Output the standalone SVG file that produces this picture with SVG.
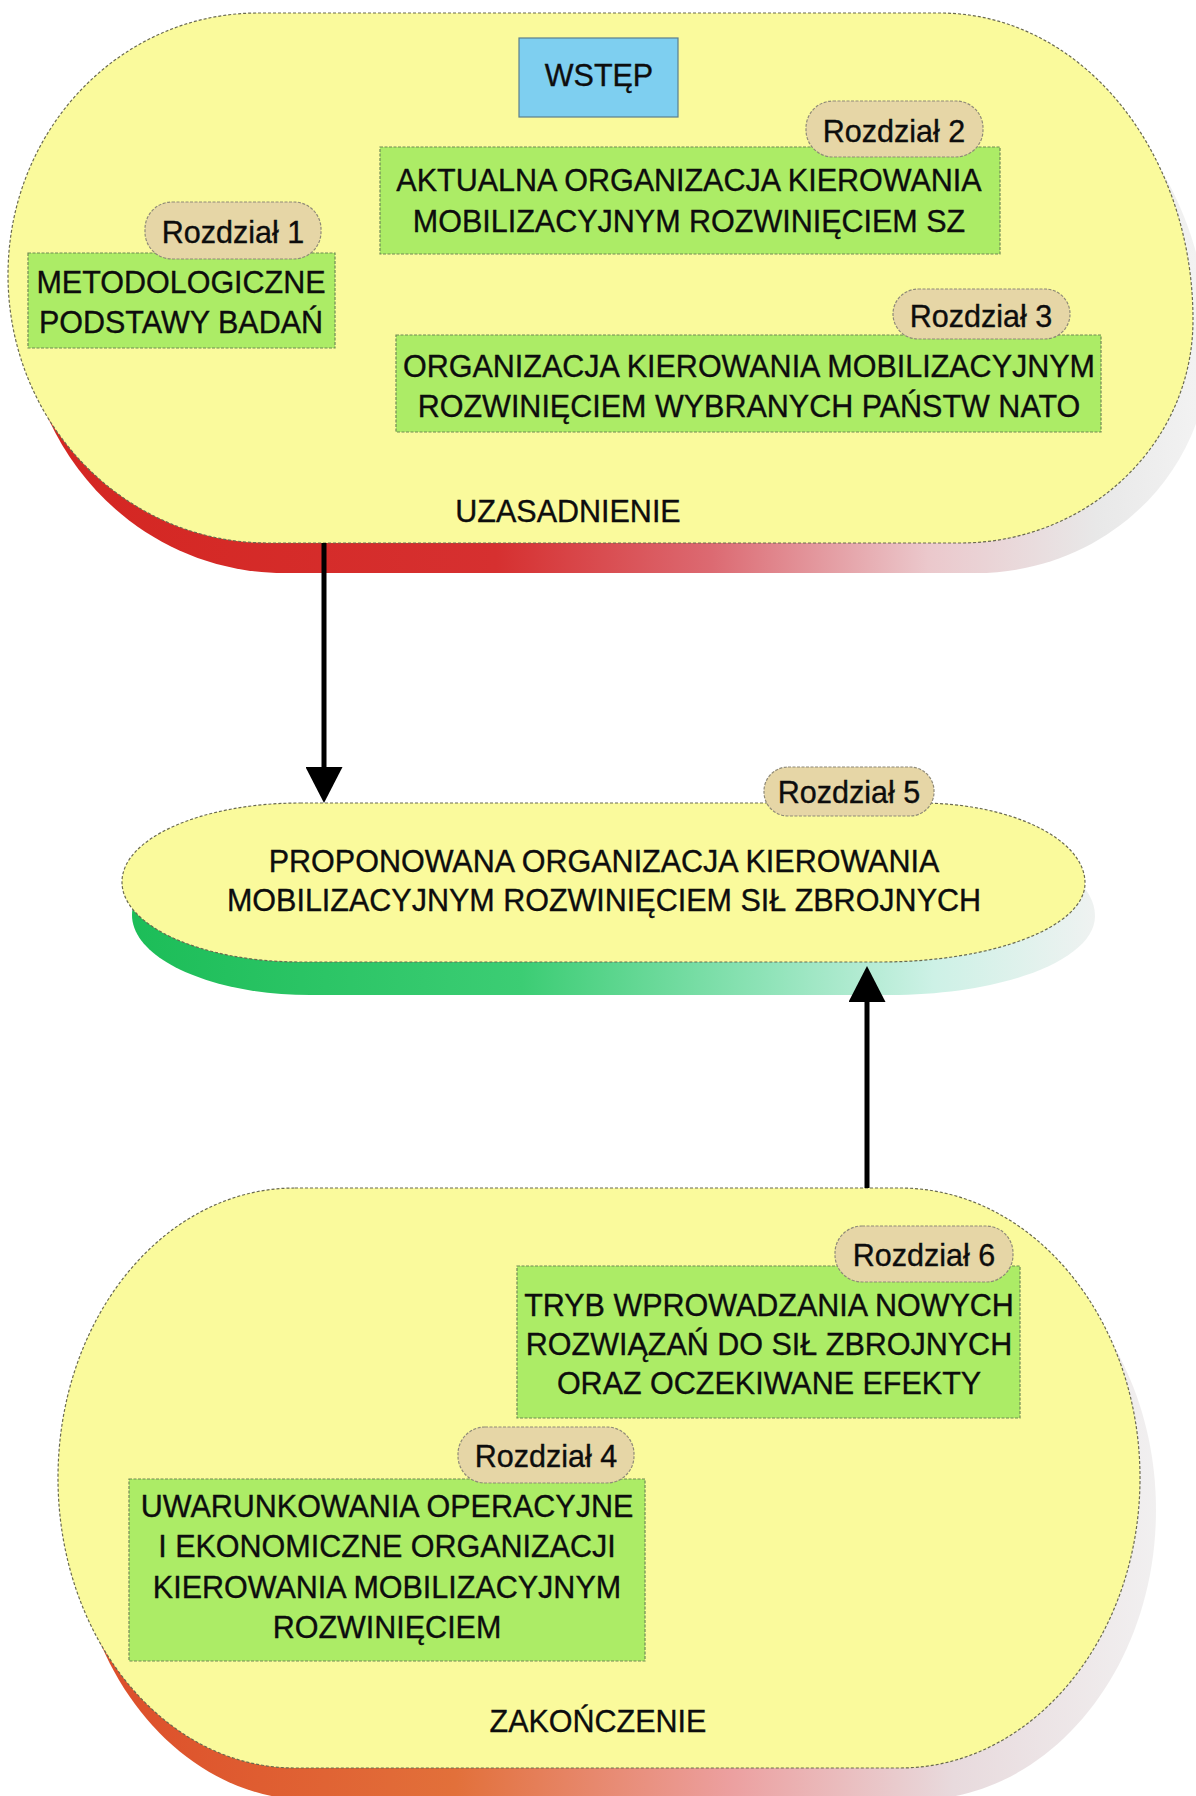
<svg xmlns="http://www.w3.org/2000/svg" width="1196" height="1796" viewBox="0 0 1196 1796">
  <defs>
    <style>
      .t { font-family: "Liberation Sans", Arial, sans-serif; font-size: 30.5px; fill: #0d0d0d; stroke: #0d0d0d; stroke-width: 0.35; text-anchor: middle; }
      .field { fill: #fafa9c; stroke: #6a6a50; stroke-width: 1.2; stroke-dasharray: 3 2; }
      .box { fill: #acec66; stroke: #6f8a55; stroke-width: 1.2; stroke-dasharray: 3 1.5; }
      .badge { fill: #e6d6a6; stroke: #8f8a78; stroke-width: 1.2; stroke-dasharray: 3 1.5; }
      .intro { fill: #7ecff0; stroke: #5d7f8c; stroke-width: 1.2; }
      .link { stroke: #000; stroke-width: 5; fill: none; }
    </style>
    <linearGradient id="gRed" gradientUnits="userSpaceOnUse" x1="0" y1="0" x2="1200" y2="0">
      <stop offset="0" stop-color="#d42520"/>
      <stop offset="0.4" stop-color="#d63030"/>
      <stop offset="0.58" stop-color="#dc6a72"/>
      <stop offset="0.76" stop-color="#ebc8cc"/>
      <stop offset="0.9" stop-color="#e8e8e8"/>
      <stop offset="1" stop-color="#f4f4f4"/>
    </linearGradient>
    <linearGradient id="gGreen" gradientUnits="userSpaceOnUse" x1="120" y1="0" x2="1100" y2="0">
      <stop offset="0" stop-color="#1cbd58"/>
      <stop offset="0.4" stop-color="#3ccd74"/>
      <stop offset="0.65" stop-color="#8fe3b8"/>
      <stop offset="0.82" stop-color="#cdf1e6"/>
      <stop offset="1" stop-color="#f2f2f2"/>
    </linearGradient>
    <linearGradient id="gOrange" gradientUnits="userSpaceOnUse" x1="50" y1="0" x2="1160" y2="0">
      <stop offset="0" stop-color="#dc4a28"/>
      <stop offset="0.35" stop-color="#e2703a"/>
      <stop offset="0.6" stop-color="#eca0a0"/>
      <stop offset="0.8" stop-color="#e8dadd"/>
      <stop offset="1" stop-color="#f2f2f2"/>
    </linearGradient>
    <marker id="head" viewBox="0 0 36 37" refX="0" refY="18.5" markerWidth="36" markerHeight="37" markerUnits="userSpaceOnUse" orient="auto">
      <path d="M0,0 L36,18.5 L0,37 Z" fill="#000"/>
    </marker>
  </defs>

  <rect width="1196" height="1796" fill="#ffffff"/>

  <!-- Upper field: justification -->
  <g id="uzasadnienie">
    <path transform="translate(16,30)" fill="url(#gRed)" d="M 258 13 L 940 13 C 1080 13 1193 150 1193 320 C 1193 443 1089 543 960 543 L 268 543 C 124 543 8 423 8 275 C 8 130 120 13 258 13 Z"/>
    <path class="field" d="M 258 13 L 940 13 C 1080 13 1193 150 1193 320 C 1193 443 1089 543 960 543 L 268 543 C 124 543 8 423 8 275 C 8 130 120 13 258 13 Z"/>
    <text class="t" x="568" y="522">UZASADNIENIE</text>
  </g>

  <g id="wstep">
    <rect class="intro" x="519" y="38" width="159" height="79"/>
    <text class="t" x="599" y="86">WSTĘP</text>
  </g>

  <g id="rozdzial1">
    <rect class="box" x="28" y="253" width="307" height="95"/>
    <text class="t" x="181" y="293">METODOLOGICZNE</text>
    <text class="t" x="181" y="333">PODSTAWY BADAŃ</text>
    <rect class="badge" x="145" y="202" width="176" height="57" rx="27"/>
    <text class="t" x="233" y="243">Rozdział 1</text>
  </g>

  <g id="rozdzial2">
    <rect class="box" x="380" y="147" width="620" height="107"/>
    <text class="t" x="689" y="191">AKTUALNA ORGANIZACJA KIEROWANIA</text>
    <text class="t" x="689" y="232">MOBILIZACYJNYM ROZWINIĘCIEM SZ</text>
    <rect class="badge" x="806" y="101" width="177" height="56" rx="27"/>
    <text class="t" x="894" y="142">Rozdział 2</text>
  </g>

  <g id="rozdzial3">
    <rect class="box" x="396" y="335" width="705" height="97"/>
    <text class="t" x="749" y="377">ORGANIZACJA KIEROWANIA MOBILIZACYJNYM</text>
    <text class="t" x="749" y="417">ROZWINIĘCIEM WYBRANYCH PAŃSTW NATO</text>
    <rect class="badge" x="893" y="289" width="177" height="50" rx="25"/>
    <text class="t" x="981" y="327">Rozdział 3</text>
  </g>

  <!-- Middle field: proposal -->
  <g id="rozdzial5">
    <path transform="translate(10,33)" fill="url(#gGreen)" d="M 300 803 L 920 803 C 1011 803 1085 839 1085 883 C 1085 927 993 962 880 962 L 300 962 C 202 962 122 926 122 882 C 122 838 202 803 300 803 Z"/>
    <path class="field" d="M 300 803 L 920 803 C 1011 803 1085 839 1085 883 C 1085 927 993 962 880 962 L 300 962 C 202 962 122 926 122 882 C 122 838 202 803 300 803 Z"/>
    <text class="t" x="604" y="872">PROPONOWANA ORGANIZACJA KIEROWANIA</text>
    <text class="t" x="604" y="911">MOBILIZACYJNYM ROZWINIĘCIEM SIŁ ZBROJNYCH</text>
    <rect class="badge" x="764" y="767" width="170" height="49" rx="24"/>
    <text class="t" x="849" y="803">Rozdział 5</text>
  </g>

  <!-- Lower field: conclusion -->
  <g id="zakonczenie">
    <path transform="translate(16,32)" fill="url(#gOrange)" d="M 295 1188 L 900 1188 C 1032 1188 1140 1318 1140 1478 C 1140 1638 1032 1768 900 1768 L 295 1768 C 164 1768 58 1638 58 1478 C 58 1318 164 1188 295 1188 Z"/>
    <path class="field" d="M 295 1188 L 900 1188 C 1032 1188 1140 1318 1140 1478 C 1140 1638 1032 1768 900 1768 L 295 1768 C 164 1768 58 1638 58 1478 C 58 1318 164 1188 295 1188 Z"/>
    <text class="t" x="598" y="1732">ZAKOŃCZENIE</text>
  </g>

  <g id="rozdzial6">
    <rect class="box" x="517" y="1266" width="503" height="152"/>
    <text class="t" x="769" y="1316">TRYB WPROWADZANIA NOWYCH</text>
    <text class="t" x="769" y="1355">ROZWIĄZAŃ DO SIŁ ZBROJNYCH</text>
    <text class="t" x="769" y="1394">ORAZ OCZEKIWANE EFEKTY</text>
    <rect class="badge" x="835" y="1226" width="178" height="56" rx="27"/>
    <text class="t" x="924" y="1266">Rozdział 6</text>
  </g>

  <g id="rozdzial4">
    <rect class="box" x="129" y="1479" width="516" height="182"/>
    <text class="t" x="387" y="1517">UWARUNKOWANIA OPERACYJNE</text>
    <text class="t" x="387" y="1557">I EKONOMICZNE ORGANIZACJI</text>
    <text class="t" x="387" y="1598">KIEROWANIA MOBILIZACYJNYM</text>
    <text class="t" x="387" y="1638">ROZWINIĘCIEM</text>
    <rect class="badge" x="458" y="1427" width="176" height="56" rx="27"/>
    <text class="t" x="546" y="1467">Rozdział 4</text>
  </g>

  <!-- Connectors -->
  <g id="connectors">
    <line class="link" x1="324" y1="543" x2="324" y2="767" marker-end="url(#head)"/>
    <line class="link" x1="867" y1="1188" x2="867" y2="1002" marker-end="url(#head)"/>
  </g>
</svg>
